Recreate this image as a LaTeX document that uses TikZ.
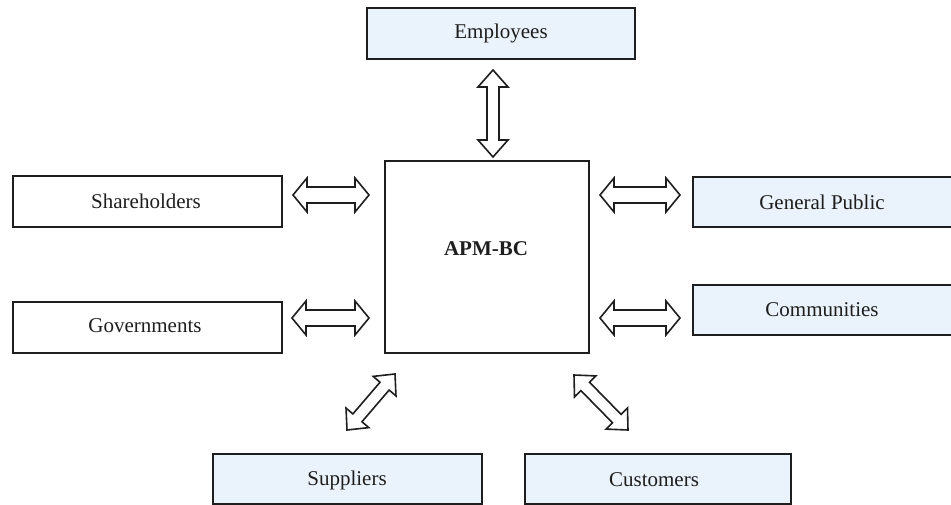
\documentclass[tikz,border=0pt]{standalone}
\usepackage{fontspec}
\setmainfont{Liberation Serif}
\usetikzlibrary{calc}

\definecolor{inkline}{RGB}{30,30,30}
\definecolor{paleblue}{RGB}{234,242,251}

% hollow double-headed arrow between two named points:
% #1,#2 tips, #3 shaft half width, #4 head half width, #5 head length
\newcommand\hollowarrow[5]{%
  \draw[arrowline]
    (#1) -- ($(#1)!#5!(#2)!#4!90:(#2)$) -- ($(#1)!#5!(#2)!#3!90:(#2)$)
    -- ($(#2)!#5!(#1)!#3!-90:(#1)$) -- ($(#2)!#5!(#1)!#4!-90:(#1)$)
    -- (#2)
    -- ($(#2)!#5!(#1)!#4!90:(#1)$) -- ($(#2)!#5!(#1)!#3!90:(#1)$)
    -- ($(#1)!#5!(#2)!#3!-90:(#2)$) -- ($(#1)!#5!(#2)!#4!-90:(#2)$)
    -- cycle;}

\begin{document}
\begin{tikzpicture}[x=1pt,y=-1pt,
  font=\fontsize{21}{25}\selectfont,
  stakebox/.style={draw=inkline, line width=1.7pt, fill=white},
  tinted/.style={stakebox, fill=paleblue},
  label/.style={text=inkline, inner sep=0pt},
  arrowline/.style={draw=inkline, line width=1.6pt, fill=white, line join=miter}]

\useasboundingbox[fill=white] (0,0) rectangle (951,505);

% stakeholder boxes
\draw[tinted]   (367,8)   rectangle (635,59);
\node[label] (emp) at (501,33) {Employees};

\draw[stakebox] (13,176)  rectangle (282,227);
\node[label] (sh) at (146,201) {Shareholders};

\draw[stakebox] (13,302)  rectangle (282,353);
\node[label] (gov) at (145,326) {Governments};

\draw[tinted]   (693,177) rectangle (953,227);
\node[label] (gp) at (822,202) {General Public};

\draw[tinted]   (693,285) rectangle (953,335);
\node[label] (com) at (822,310) {Communities};

\draw[tinted]   (213,454) rectangle (482,504);
\node[label] (sup) at (347,480) {Suppliers};

\draw[tinted]   (525,454) rectangle (791,504);
\node[label] (cus) at (654,480) {Customers};

% central organisation
\draw[stakebox] (385,161) rectangle (589,353);
\node[label, font=\fontsize{21}{25}\selectfont\bfseries] (apm) at (486,249) {APM-BC};

% arrow tips
\coordinate (e1) at (493,70);   \coordinate (e2) at (493,157);
\coordinate (s1) at (293,195);  \coordinate (s2) at (369,195);
\coordinate (g1) at (292,318);  \coordinate (g2) at (369,318);
\coordinate (p1) at (600,195);  \coordinate (p2) at (680,195);
\coordinate (c1) at (600,318);  \coordinate (c2) at (680,318);
\coordinate (u1) at (347,430);  \coordinate (u2) at (395,374);
\coordinate (k1) at (574,375);  \coordinate (k2) at (628,430);

% two-way relations
\hollowarrow{e1}{e2}{6pt}{15pt}{17pt}
\hollowarrow{s1}{s2}{8pt}{17pt}{14pt}
\hollowarrow{g1}{g2}{8pt}{17pt}{14pt}
\hollowarrow{p1}{p2}{8pt}{17pt}{14pt}
\hollowarrow{c1}{c2}{8pt}{17pt}{14pt}
\hollowarrow{u1}{u2}{6pt}{15pt}{16pt}
\hollowarrow{k1}{k2}{6pt}{15pt}{16pt}

\end{tikzpicture}
\end{document}
